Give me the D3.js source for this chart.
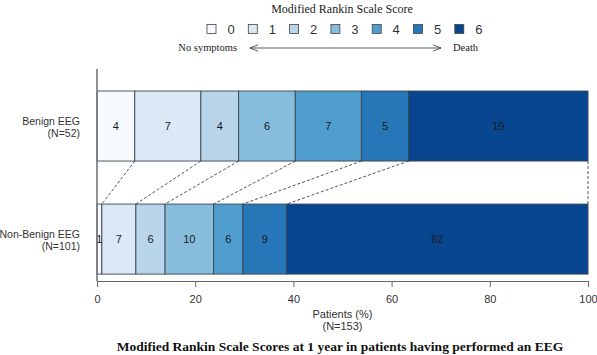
<!DOCTYPE html>
<html>
<head>
<meta charset="utf-8">
<script src="https://cdn.jsdelivr.net/npm/d3@7"></script>
<style>
  body { margin: 0; background: #fff; }
  svg { display: block; }
</style>
</head>
<body>
<svg id="chart"></svg>
<script>
// data
const scores = ["0", "1", "2", "3", "4", "5", "6"];
const groups = ["Benign EEG", "Non-Benign EEG"];
const groupN = [52, 101];
const benignCounts = [4, 7, 4, 6, 7, 5, 19];
const nonBenignCounts = [1, 7, 6, 10, 6, 9, 62];
const xTicks = [0, 20, 40, 60, 80, 100];
const colors = ["#f7fbff", "#dbe8f5", "#b8d5ea", "#86bcdc", "#509ecd", "#2777b8", "#08468f"];

const width = 597, height = 355;
const margin = { top: 69, left: 97, right: 9, bottom: 74 };

const svg = d3.select("#chart").attr("width", width).attr("height", height);

const x = d3.scaleLinear().domain([0, 100]).range([margin.left, width - margin.right]);
// bars 70px tall with a 43px gap
const y = d3.scaleBand().domain(groups).range([79.7, 285.4]).paddingInner(43 / 113).paddingOuter(0.1);

// stack into percentages
function stack(counts) {
  const total = d3.sum(counts);
  let acc = 0;
  return counts.map((c, i) => {
    const start = acc;
    acc += c / total * 100;
    return { score: scores[i], count: c, x0: start, x1: acc };
  });
}
const rows = [stack(benignCounts), stack(nonBenignCounts)];

// connectors between cumulative boundaries
const rowA = rows[0], rowB = rows[1];
const yTopBottom = y(groups[0]) + y.bandwidth();
const yBotTop = y(groups[1]);
svg.append("g").selectAll("line")
  .data(d3.range(rowA.length))
  .join("line")
  .attr("x1", i => x(rowA[i].x1))
  .attr("x2", i => x(rowB[i].x1))
  .attr("y1", yTopBottom)
  .attr("y2", yBotTop)
  .attr("stroke", "#555")
  .attr("stroke-width", 1)
  .attr("stroke-dasharray", "3,2");

// bars
rows.forEach((row, gi) => {
  const g = svg.append("g");
  g.selectAll("rect")
    .data(row)
    .join("rect")
    .attr("x", d => x(d.x0))
    .attr("y", y(groups[gi]))
    .attr("width", d => x(d.x1) - x(d.x0))
    .attr("height", y.bandwidth())
    .attr("fill", (d, i) => colors[i])
    .attr("stroke", "#3c4650")
    .attr("stroke-width", 0.9);
  g.selectAll("text")
    .data(row)
    .join("text")
    .attr("x", d => (x(d.x0) + x(d.x1)) / 2)
    .attr("y", y(groups[gi]) + y.bandwidth() / 2)
    .attr("dy", "0.35em")
    .attr("text-anchor", "middle")
    .style("font-family", "Liberation Sans, Arial, sans-serif")
    .style("font-size", "11px")
    .attr("fill", "#1a1a1a")
    .text(d => d.count);

  // group labels
  const lab = svg.append("text")
    .attr("text-anchor", "end")
    .style("font-family", "Liberation Sans, Arial, sans-serif")
    .style("font-size", "10.5px")
    .attr("fill", "#333");
  lab.append("tspan").attr("x", 80).attr("y", y(groups[gi]) + y.bandwidth() / 2 - 1).text(groups[gi]);
  lab.append("tspan").attr("x", 80).attr("dy", "1.15em").text("(N=" + groupN[gi] + ")");
});

// left line
svg.append("line")
  .attr("x1", x(0)).attr("x2", x(0))
  .attr("y1", margin.top).attr("y2", 281)
  .attr("stroke", "#777").attr("stroke-width", 1.6);

// x axis
const xAxisG = svg.append("g")
  .attr("transform", "translate(0,281)")
  .call(d3.axisBottom(x).tickValues(xTicks).tickSize(6).tickPadding(8).tickSizeOuter(0));
xAxisG.select(".domain").attr("stroke", "#666");
xAxisG.selectAll(".tick line").attr("stroke", "#666");
xAxisG.selectAll("text")
  .style("font-family", "Liberation Sans, Arial, sans-serif")
  .style("font-size", "11px")
  .attr("fill", "#333");

svg.append("text")
  .attr("x", x(50)).attr("y", 318)
  .attr("text-anchor", "middle")
  .style("font-family", "Liberation Sans, Arial, sans-serif")
  .style("font-size", "11px")
  .attr("fill", "#333")
  .text("Patients (%)");
svg.append("text")
  .attr("x", x(50)).attr("y", 330)
  .attr("text-anchor", "middle")
  .style("font-family", "Liberation Sans, Arial, sans-serif")
  .style("font-size", "11px")
  .attr("fill", "#333")
  .text("(N=153)");

// caption
svg.append("text")
  .attr("x", 340).attr("y", 351)
  .attr("text-anchor", "middle")
  .style("font-family", "Liberation Serif, Times New Roman, serif")
  .style("font-size", "13.5px")
  .style("font-weight", "bold")
  .attr("fill", "#111")
  .text("Modified Rankin Scale Scores at 1 year in patients having performed an EEG");

// legend
svg.append("text")
  .attr("x", 342).attr("y", 13)
  .attr("text-anchor", "middle")
  .style("font-family", "Liberation Serif, Times New Roman, serif")
  .style("font-size", "12px")
  .attr("fill", "#222")
  .text("Modified Rankin Scale Score");

const leg = svg.append("g").selectAll("g")
  .data(scores)
  .join("g")
  .attr("transform", (d, i) => `translate(${207 + i * 41.3},29)`);
leg.append("rect")
  .attr("x", 0).attr("y", -4.5)
  .attr("width", 9).attr("height", 9)
  .attr("fill", (d, i) => colors[i])
  .attr("stroke", "#444").attr("stroke-width", 0.8);
leg.append("text")
  .attr("x", 24).attr("dy", "0.36em")
  .attr("text-anchor", "middle")
  .style("font-family", "Liberation Sans, Arial, sans-serif")
  .style("font-size", "13px")
  .attr("fill", "#333")
  .text(d => d);

// arrow
svg.append("defs").append("marker")
  .attr("id", "chev")
  .attr("viewBox", "0 0 10 10")
  .attr("refX", 10).attr("refY", 5)
  .attr("markerWidth", 8).attr("markerHeight", 8)
  .attr("markerUnits", "userSpaceOnUse")
  .attr("orient", "auto-start-reverse")
  .append("path")
  .attr("d", "M0,1 L10,5 L0,9")
  .attr("fill", "none").attr("stroke", "#333").attr("stroke-width", 1);
svg.append("line")
  .attr("x1", 250).attr("x2", 441).attr("y1", 48).attr("y2", 48)
  .attr("stroke", "#333").attr("stroke-width", 0.8)
  .attr("marker-start", "url(#chev)")
  .attr("marker-end", "url(#chev)");
svg.append("text")
  .attr("x", 237).attr("y", 51)
  .attr("text-anchor", "end")
  .style("font-family", "Liberation Serif, Times New Roman, serif")
  .style("font-size", "10.5px")
  .attr("fill", "#222")
  .text("No symptoms");
svg.append("text")
  .attr("x", 453).attr("y", 51)
  .style("font-family", "Liberation Serif, Times New Roman, serif")
  .style("font-size", "10.5px")
  .attr("fill", "#222")
  .text("Death");
</script>
</body>
</html>
